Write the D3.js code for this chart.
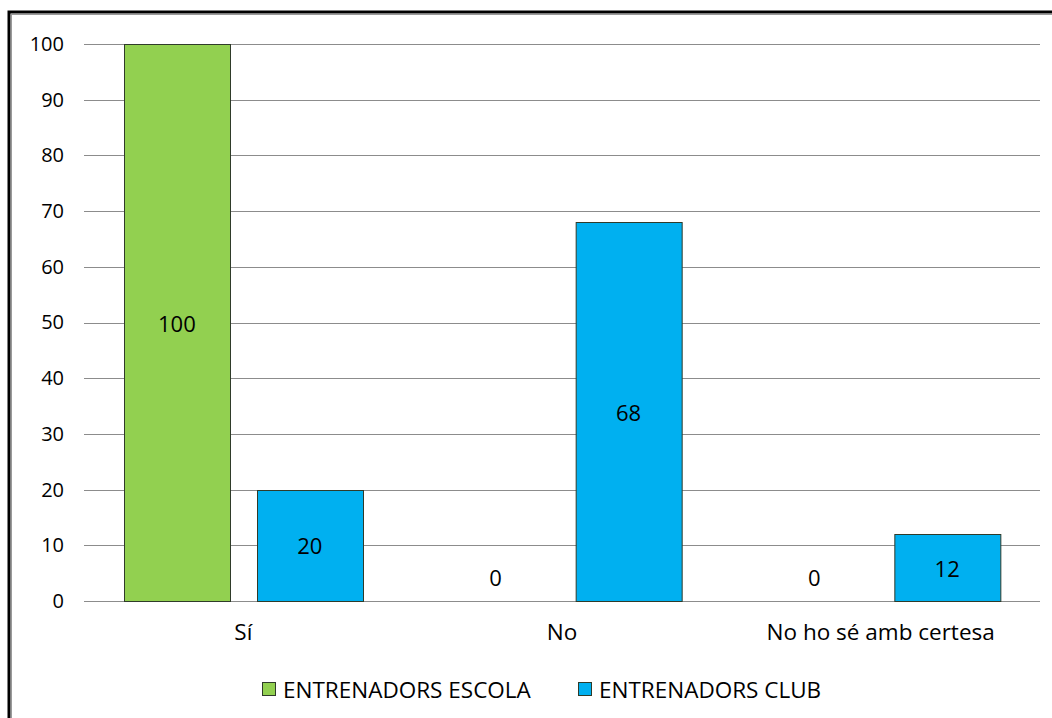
<!DOCTYPE html>
<html>
<head>
<meta charset="utf-8">
<script src="https://cdn.jsdelivr.net/npm/d3@7"></script>
<style>
  html, body { margin: 0; padding: 0; background: #ffffff; }
  svg { display: block; }
  text { font-family: "Open Sans", "Noto Sans", sans-serif; fill: #000; }
</style>
</head>
<body>
<svg id="chart" width="1052" height="718"></svg>
<script>
// Answer categories and the two groups of coaches (percentages)
const categories = ["Sí", "No", "No ho sé amb certesa"];
const seriesNames = ["ENTRENADORS ESCOLA", "ENTRENADORS CLUB"];
const escolaValues = [100, 0, 0];
const clubValues = [20, 68, 12];
const seriesColors = ["#92D050", "#00B0F0"];
const yTicks = [0, 10, 20, 30, 40, 50, 60, 70, 80, 90, 100];

const svg = d3.select("#chart");

// Outer frame: thick black edge with a soft grey inner line
svg.append("rect")
  .attr("x", 9).attr("y", 12)
  .attr("width", 1200).attr("height", 900)
  .attr("fill", "none").attr("stroke", "#000").attr("stroke-width", 3);
svg.append("rect")
  .attr("x", 11.5).attr("y", 14.5)
  .attr("width", 1200).attr("height", 900)
  .attr("fill", "none").attr("stroke", "#9a9a9a").attr("stroke-width", 1);

const plot = { left: 84, right: 1040, top: 44, bottom: 601 };

const x0 = d3.scaleBand()
  .domain(categories)
  .range([plot.left, plot.right])
  .paddingInner(0).paddingOuter(0);

const x1 = d3.scaleBand()
  .domain(seriesNames)
  .range([0, x0.bandwidth()])
  .paddingInner(0.203).paddingOuter(0.3);

const y = d3.scaleLinear()
  .domain([0, 100])
  .range([plot.bottom, plot.top]);

// Horizontal gridlines
svg.append("g")
  .selectAll("line")
  .data(yTicks)
  .join("line")
  .attr("x1", plot.left).attr("x2", plot.right)
  .attr("y1", d => Math.round(y(d)) + 0.5)
  .attr("y2", d => Math.round(y(d)) + 0.5)
  .attr("stroke", "#8c8c8c").attr("stroke-width", 1);

// Y axis labels
const yAxis = d3.axisLeft(y).tickValues(yTicks).tickSize(0).tickPadding(20);
const gy = svg.append("g")
  .attr("transform", `translate(${plot.left},0)`)
  .call(yAxis);
gy.select(".domain").remove();
gy.selectAll("text")
  .style("font-family", "'Open Sans', sans-serif")
  .style("font-size", "20px")
  .attr("fill", "#000");

// Category labels
const xAxis = d3.axisBottom(x0).tickSize(0).tickPadding(23);
const gx = svg.append("g")
  .attr("transform", `translate(0,${plot.bottom})`)
  .call(xAxis);
gx.select(".domain").remove();
gx.selectAll("text")
  .style("font-family", "'Open Sans', sans-serif")
  .style("font-size", "22.5px")
  .attr("fill", "#000");

// Bars
const rows = categories.map((c, i) => ({
  category: c,
  values: [
    { series: seriesNames[0], value: escolaValues[i], color: seriesColors[0] },
    { series: seriesNames[1], value: clubValues[i], color: seriesColors[1] }
  ]
}));

const groups = svg.append("g")
  .selectAll("g")
  .data(rows)
  .join("g")
  .attr("transform", d => `translate(${x0(d.category)},0)`);

groups.selectAll("rect")
  .data(d => d.values.filter(v => v.value > 0))
  .join("rect")
  .attr("x", d => Math.round(x1(d.series)) + 0.5)
  .attr("y", d => Math.round(y(d.value)) + 0.5)
  .attr("width", d => Math.round(x1.bandwidth()))
  .attr("height", d => Math.round(y(0)) - Math.round(y(d.value)))
  .attr("fill", d => d.color)
  .attr("stroke", "#2f3b2a").attr("stroke-width", 1);

// Value labels, centred in each bar (just above the axis for zero values)
groups.selectAll("text.val")
  .data(d => d.values)
  .join("text")
  .attr("class", "val")
  .attr("x", d => x1(d.series) + x1.bandwidth() / 2)
  .attr("y", d => d.value > 0 ? (y(d.value) + y(0)) / 2 : y(0) - 24)
  .attr("text-anchor", "middle")
  .attr("dominant-baseline", "central")
  .style("font-size", "22px")
  .text(d => d.value);

// Legend
const legendItems = [
  { name: seriesNames[0], color: seriesColors[0], x: 262 },
  { name: seriesNames[1], color: seriesColors[1], x: 578 }
];
const lg = svg.append("g").selectAll("g")
  .data(legendItems)
  .join("g")
  .attr("transform", d => `translate(${d.x},682)`);
lg.append("rect")
  .attr("x", 0.5).attr("y", 0.5)
  .attr("width", 13).attr("height", 13)
  .attr("fill", d => d.color)
  .attr("stroke", "#2f3b2a").attr("stroke-width", 1);
lg.append("text")
  .attr("x", 21).attr("y", 7.5)
  .attr("dominant-baseline", "central")
  .style("font-size", "22.5px")
  .text(d => d.name);
</script>
</body>
</html>
